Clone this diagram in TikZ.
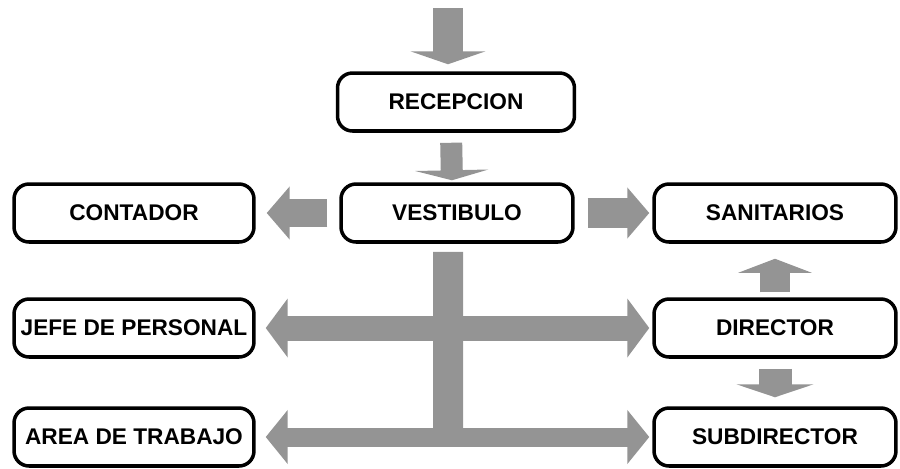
\documentclass[tikz,border=0pt]{standalone}
\usepackage{fontspec}
\setmainfont{Liberation Sans}
\usetikzlibrary{arrows.meta}

\begin{document}
\begin{tikzpicture}[
    x = 0.02cm, y = -0.02cm,
    box/.style = {draw, line width=2pt, rounded corners=0.3cm, inner sep=0pt,
                  minimum width=#1, minimum height=1.16cm,
                  font=\fontsize{12.9}{14}\selectfont\bfseries},
    box/.default = 4.8cm,
    flow/.style n args = {3}{draw=black!42, line width=#1,
                  -{Triangle[width=#2, length=#3]}},
    both/.style n args = {3}{draw=black!42, line width=#1,
                  {Triangle[width=#2, length=#3]}-{Triangle[width=#2, length=#3]}},
  ]
  \useasboundingbox (0,0) rectangle (900,468);

  \node[box=4.74cm] (recep) at (456,102) {RECEPCION};
  \node[box=4.64cm] (vest) at (457,213) {VESTIBULO};
  \node[box] (cont) at (134,213) {CONTADOR};
  \node[box] (jefe) at (134,328) {JEFE DE PERSONAL};
  \node[box] (area) at (134,437) {AREA DE TRABAJO};
  \node[box=4.84cm] (sanit) at (775,213) {SANITARIOS};
  \node[box=4.84cm] (dir) at (775,328) {DIRECTOR};
  \node[box=4.84cm] (subdir) at (775,437) {SUBDIRECTOR};

  \coordinate (in) at (448,8);
  \coordinate (foot) at (448,446);

  \draw[flow={0.6cm}{1.5cm}{0.26cm}, shorten >=0.14cm] (in) -- (in |- recep.north);
  \draw[flow={0.44cm}{1.46cm}{0.2cm}, shorten <=0.2cm, shorten >=0.04cm]
    ([xshift=-0.1cm]recep.south) -- ([xshift=-0.1cm]vest.north);
  \draw[flow={0.56cm}{1.04cm}{0.46cm}, shorten <=0.24cm, shorten >=0.22cm] (vest) -- (cont);
  \draw[flow={0.6cm}{1cm}{0.44cm}, shorten <=0.26cm, shorten >=0.06cm] (vest) -- (sanit);
  \draw[flow={0.6cm}{1.46cm}{0.28cm}, shorten <=0.1cm, shorten >=0.3cm] (dir) -- (sanit);
  \draw[flow={0.66cm}{1.54cm}{0.26cm}, shorten <=0.2cm, shorten >=0.18cm] (dir) -- (subdir);

  % trunk below the hall
  \draw[draw=black!42, line width=0.6cm] ([xshift=-0.18cm, yshift=-0.16cm]vest.south) -- (foot);
  \draw[both={0.5cm}{1.16cm}{0.44cm}, shorten <=0.2cm, shorten >=0.06cm] (jefe) -- (dir);
  \draw[both={0.38cm}{1.06cm}{0.44cm}, shorten <=0.2cm, shorten >=0.06cm] (area) -- (subdir);
\end{tikzpicture}
\end{document}
